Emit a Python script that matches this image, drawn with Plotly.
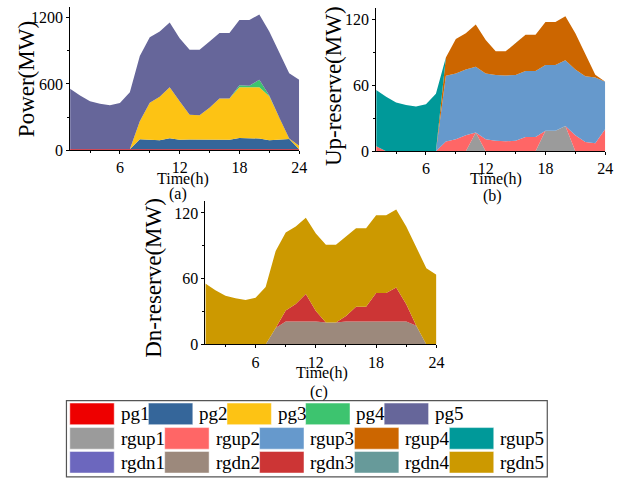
import plotly.graph_objects as go

# ---------------- data ----------------
hours = list(range(1, 25))

# (a) power output (MW)
pg1 = [8] * 24
pg2 = [0, 0, 0, 0, 0, 0, 0, 90, 84, 81, 99, 87, 88, 88, 88, 86, 86, 102, 100, 98, 81, 86, 92, 0]
pg3 = [0, 0, 0, 0, 0, 0, 0, 163, 338, 394, 462, 349, 224, 221, 289, 374, 374, 459, 461, 463, 400, 202, 5, 31]
pg4 = [0] * 17 + [18, 15, 68, 6, 0, 0, 0]
pg5 = [549, 487, 436, 413, 398, 419, 516, 592, 592, 593, 587, 569, 590, 593, 599, 593, 593,
       592, 595, 593, 581, 593, 591, 598]

# (b) up-reserve (MW)
rgup1 = [0] * 10 + [17] + [0] * 6 + [18.5, 18.5, 23] + [0] * 4
rgup2 = [4.5, 0, 0, 0, 0, 0, 0, 8.7, 10.8, 14.4, 0, 10.8, 9.5, 9, 9.5, 13, 13, 0, 0, 0, 14.4, 8.4, 7.2, 20.3]
rgup3 = [0] * 7 + [60] * 16 + [43]
rgup4 = [0] * 7 + [16.6, 31.4, 33.2, 38.6, 30.5, 21.5, 22, 28.9, 33.1, 33.1, 39.4, 39.4, 40, 33.2, 20.5, 2.4, 0]
rgup5 = [51.2, 49.5, 44.4, 42.1, 40.6, 42.7, 52.4] + [0] * 17

# (c) down-reserve (MW)
rgdn1 = [0] * 24
rgdn2 = [0] * 7 + [15] + [21] * 4 + [20, 20] + [21] * 7 + [17, 0, 0]
rgdn3 = [0] * 8 + [10, 16, 25, 9.6, 0, 0, 5, 13.5, 13.5, 26, 26, 31, 15.6, 0, 0, 0]
rgdn4 = [0] * 24
rgdn5 = [55.7, 49.5, 44.4, 42.1, 40.6, 42.7, 52.4, 70.3, 71.2, 70.6, 69.6, 70.7, 71, 71, 72.4,
         71.6, 71.6, 70.9, 70.9, 71, 71, 71.9, 69.6, 63.7]

names_pg = ["pg1", "pg2", "pg3", "pg4", "pg5"]
names_up = ["rgup1", "rgup2", "rgup3", "rgup4", "rgup5"]
names_dn = ["rgdn1", "rgdn2", "rgdn3", "rgdn4", "rgdn5"]

col_pg = ["#EE0000", "#35669A", "#FDC314", "#3DC46F", "#66669A"]
col_up = ["#9B9B9B", "#FF6666", "#6699CC", "#CC6600", "#009999"]
col_dn = ["#6C67BE", "#9C897C", "#CC3535", "#679A9A", "#CC9900"]

x_ticks = [6, 12, 18, 24]

# ---------------- layout helpers ----------------
W, H = 631, 483
FONT = "Liberation Serif, Times New Roman, serif"


def px(x):
    return x / W


def py(y):
    return 1 - y / H


fig = go.Figure()

panels = [
    ("x", "y", [pg1, pg2, pg3, pg4, pg5], names_pg, col_pg),
    ("x2", "y2", [rgup1, rgup2, rgup3, rgup4, rgup5], names_up, col_up),
    ("x3", "y3", [rgdn1, rgdn2, rgdn3, rgdn4, rgdn5], names_dn, col_dn),
]
for xa, ya, series, names, cols in panels:
    for s, n, c in zip(series, names, cols):
        fig.add_trace(go.Scatter(
            x=hours, y=s, name=n, xaxis=xa, yaxis=ya,
            mode="lines", line=dict(width=0, color=c), fillcolor=c,
            stackgroup=xa, showlegend=False, hoverinfo="x+y+name"))

axis_common = dict(showline=True, linecolor="black", linewidth=1, showgrid=False,
                   zeroline=False, ticks="outside", ticklen=3, tickcolor="black",
                   tickfont=dict(family=FONT, size=16, color="black"))

# panel geometry (pixels): left, right, bottom, top, y max, y tick step
geo = {
    "a": (71, 303, 153, 7, 1298, 600),
    "b": (381, 613, 154, 8, 130.7, 60),
    "c": (208, 442, 351, 205, 130.7, 60),
}
keys = [("xaxis", "yaxis", "y", "x", "a"), ("xaxis2", "yaxis2", "y2", "x2", "b"),
        ("xaxis3", "yaxis3", "y3", "x3", "c")]
lay = {}
for xk, yk, yanc, xanc, g in keys:
    l, r, b, t, ymax, dy = geo[g]
    lay[xk] = dict(axis_common, domain=[px(l), px(r)], anchor=yanc, range=[1, 24],
                   tickvals=x_ticks, minor=dict(dtick=3, tick0=0, ticks="outside", ticklen=2,
                                                tickcolor="black"))
    lay[yk] = dict(axis_common, domain=[py(b), py(t)], anchor=xanc, range=[0, ymax],
                   dtick=dy, tick0=0, ticklabelstandoff=0,
                   minor=dict(dtick=dy / 2, ticks="outside", ticklen=2, tickcolor="black"))

fig.update_layout(**lay)

ann = []


def text(x, y, s, size, angle=0):
    ann.append(dict(x=px(x), y=py(y), xref="paper", yref="paper", text=s, showarrow=False,
                    xanchor="center", yanchor="middle", textangle=angle,
                    font=dict(family=FONT, size=size, color="black")))


text(27, 81, "Power(MW)", 23, -90)
text(338, 88, "Up-reserve(MW)", 23, -90)
text(156, 283, "Dn-reserve(MW)", 23, -90)
text(185, 182, "Time(h)", 16)
text(502, 182, "Time(h)", 16)
text(326, 380, "Time(h)", 16)
text(180, 198, "(a)", 16)
text(499, 200, "(b)", 16)
text(323, 399, "(c)", 16)

# ---------------- legend (drawn manually) ----------------
shapes = [dict(type="rect", xref="paper", yref="paper", x0=px(67.3), x1=px(554.3),
               y0=py(486), y1=py(408.3), line=dict(color="#555555", width=1.2),
               fillcolor="rgba(0,0,0,0)")]
rows = [(names_pg, col_pg, 421.7, 79.6), (names_up, col_up, 446.7, 96.1),
        (names_dn, col_dn, 471.0, 96.1)]
for names, cols, yc, step in rows:
    for i, (n, c) in enumerate(zip(names, cols)):
        x0 = 70.7 + i * step
        shapes.append(dict(type="rect", xref="paper", yref="paper", x0=px(x0), x1=px(x0 + 45),
                           y0=py(yc + 11), y1=py(yc - 11), fillcolor=c,
                           line=dict(color="rgba(255,255,255,0.6)", width=0.8)))
        ann.append(dict(x=px(x0 + 49.5), y=py(yc), xref="paper", yref="paper", text=n,
                        showarrow=False, xanchor="left", yanchor="middle",
                        font=dict(family=FONT, size=19, color="black")))

fig.update_layout(width=W, height=H, margin=dict(l=0, r=0, t=0, b=0),
                  paper_bgcolor="white", plot_bgcolor="white",
                  annotations=ann, shapes=shapes, showlegend=False)

fig.write_html("out.html")
